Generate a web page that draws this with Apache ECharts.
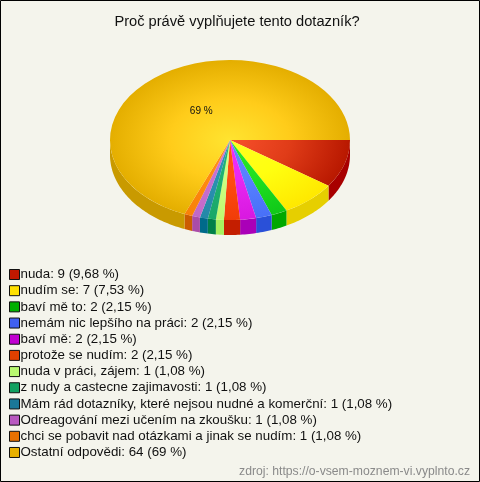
<!DOCTYPE html>
<html><head><meta charset="utf-8">
<style>html,body{margin:0;padding:0;background:#f4f4ec}#c{width:480px;height:482px}</style>
<script src="https://cdn.jsdelivr.net/npm/echarts@6/dist/echarts.min.js"></script>
</head><body><div id="c"></div>
<script>
const titleText = 'Proč právě vyplňujete tento dotazník?';
const sourceText = 'zdroj: https://o-vsem-moznem-vi.vyplnto.cz';
const categories = ['nuda','nudím se','baví mě to','nemám nic lepšího na práci','baví mě','protože se nudím','nuda v práci, zájem','z nudy a castecne zajimavosti','Mám rád dotazníky, které nejsou nudné a komerční','Odreagování mezi učením na zkoušku','chci se pobavit nad otázkami a jinak se nudím','Ostatní odpovědi'];
const values = [9,7,2,2,2,2,1,1,1,1,1,64];
const percents = ['9,68 %','7,53 %','2,15 %','2,15 %','2,15 %','2,15 %','1,08 %','1,08 %','1,08 %','1,08 %','1,08 %','69 %'];
const legendColors = ['#c01800','#ffe000','#00b000','#4060f0','#c000d0','#e04000','#b8f870','#10a060','#1a7898','#b858c0','#e87000','#e8b000'];
const wallColors = ['#a80000','#e6cf00','#00a800','#2a50d8','#aa00b8','#c41e00','#a6f060','#008048','#006a8a','#aa4ca8','#cc5c00','#c99a00'];
const innerColors = ['#f8502c','#ffff20','#28e828','#6088ff','#f030f8','#ff5010','#d4ff88','#20b878','#3098b8','#d078d8','#ff9018','#ffe430'];
const midColors = ['#e03c18','#ffff10','#20e020','#5880ff','#e828f0','#ff4c10','#ccff80','#20b070','#2a90b0','#c870d0','#ff8a10','#ffcc1a'];
const outerColors = ['#b81800','#ffe800','#10c818','#4870f8','#d818e0','#f03c08','#c0f870','#18a868','#2488a8','#c068c8','#f88008','#e4ae00'];

const CX = 230, CY = 140, RX = 120, RY = 80, DEPTH = 15;
const total = values.reduce((a, b) => a + b, 0);

function renderSlice(params, api) {
  const i = params.seriesIndex;
  const v = api.value(0);
  const before = values.slice(0, i).reduce((a, b) => a + b, 0);
  const a0 = before / total * Math.PI * 2;
  const a1 = (before + v) / total * Math.PI * 2;
  const children = [];
  const w0 = a0, w1 = Math.min(a1, Math.PI);
  if (w0 < w1) {
    const top = [], bottom = [];
    const steps = Math.max(2, Math.ceil((w1 - w0) / 0.02));
    for (let k = 0; k <= steps; k++) {
      const t = w0 + (w1 - w0) * k / steps;
      const x = CX + RX * Math.cos(t), y = CY + RY * Math.sin(t);
      top.push([x, y]);
      bottom.unshift([x, y + DEPTH]);
    }
    children.push({ type: 'polygon', shape: { points: top.concat(bottom) }, style: { fill: wallColors[i] } });
  }
  children.push({
    type: 'group', x: CX, y: CY, scaleY: RY / RX,
    children: [{
      type: 'sector',
      shape: { cx: 0, cy: 0, r0: 0, r: RX, startAngle: a0, endAngle: a1, clockwise: true },
      style: {
        fill: new echarts.graphic.RadialGradient(0, 0, RX, [
          { offset: 0, color: innerColors[i] },
          { offset: 0.5, color: midColors[i] },
          { offset: 1, color: outerColors[i] }
        ], true)
      }
    }]
  });
  if (v / total > 0.5) {
    const mid = (a0 + a1) / 2;
    children.push({
      type: 'text',
      style: {
        x: CX + RX * 0.43 * Math.cos(mid), y: CY + RY * 0.43 * Math.sin(mid),
        text: percents[i], fill: '#111', align: 'center', verticalAlign: 'middle',
        font: '10px "Liberation Sans", Arial, sans-serif'
      }
    });
  }
  return { type: 'group', children };
}

const legendNames = categories.map((c, i) => c + ': ' + values[i] + ' (' + percents[i] + ')');
const chart = echarts.init(document.getElementById('c'), null, { renderer: 'canvas' });
chart.setOption({
  animation: false,
  backgroundColor: '#f4f4ec',
  title: {
    text: titleText, left: 232, top: 9, textAlign: 'center',
    textStyle: { fontFamily: '"Liberation Sans", Arial, sans-serif', fontSize: 14.67, fontWeight: 'normal', color: '#111' }
  },
  legend: {
    orient: 'vertical', left: 9, top: 268, padding: 0,
    itemWidth: 10, itemHeight: 10, itemGap: 3.18,
    icon: 'rect', selectedMode: false,
    itemStyle: { borderColor: '#111', borderWidth: 1, borderJoin: 'miter' },
    textStyle: { fontFamily: '"Liberation Sans", Arial, sans-serif', fontSize: 13.33, lineHeight: 12, color: '#111', padding: [0, 0, 0, -4] },
    data: legendNames
  },
  graphic: [
    { type: 'rect', silent: true, z: 100, shape: { x: 0.5, y: 0.5, width: 479, height: 481 }, style: { fill: 'none', stroke: '#000', lineWidth: 1 } },
    { type: 'text', silent: true, right: 10, top: 466, style: { text: sourceText, fill: '#8a8a8a', font: '12.2px "Liberation Sans", Arial, sans-serif' } }
  ],
  series: legendNames.map((name, i) => ({
    type: 'custom', name, coordinateSystem: 'none', silent: true,
    itemStyle: { color: legendColors[i] },
    renderItem: renderSlice,
    data: [[values[i]]]
  }))
});
</script></body></html>
